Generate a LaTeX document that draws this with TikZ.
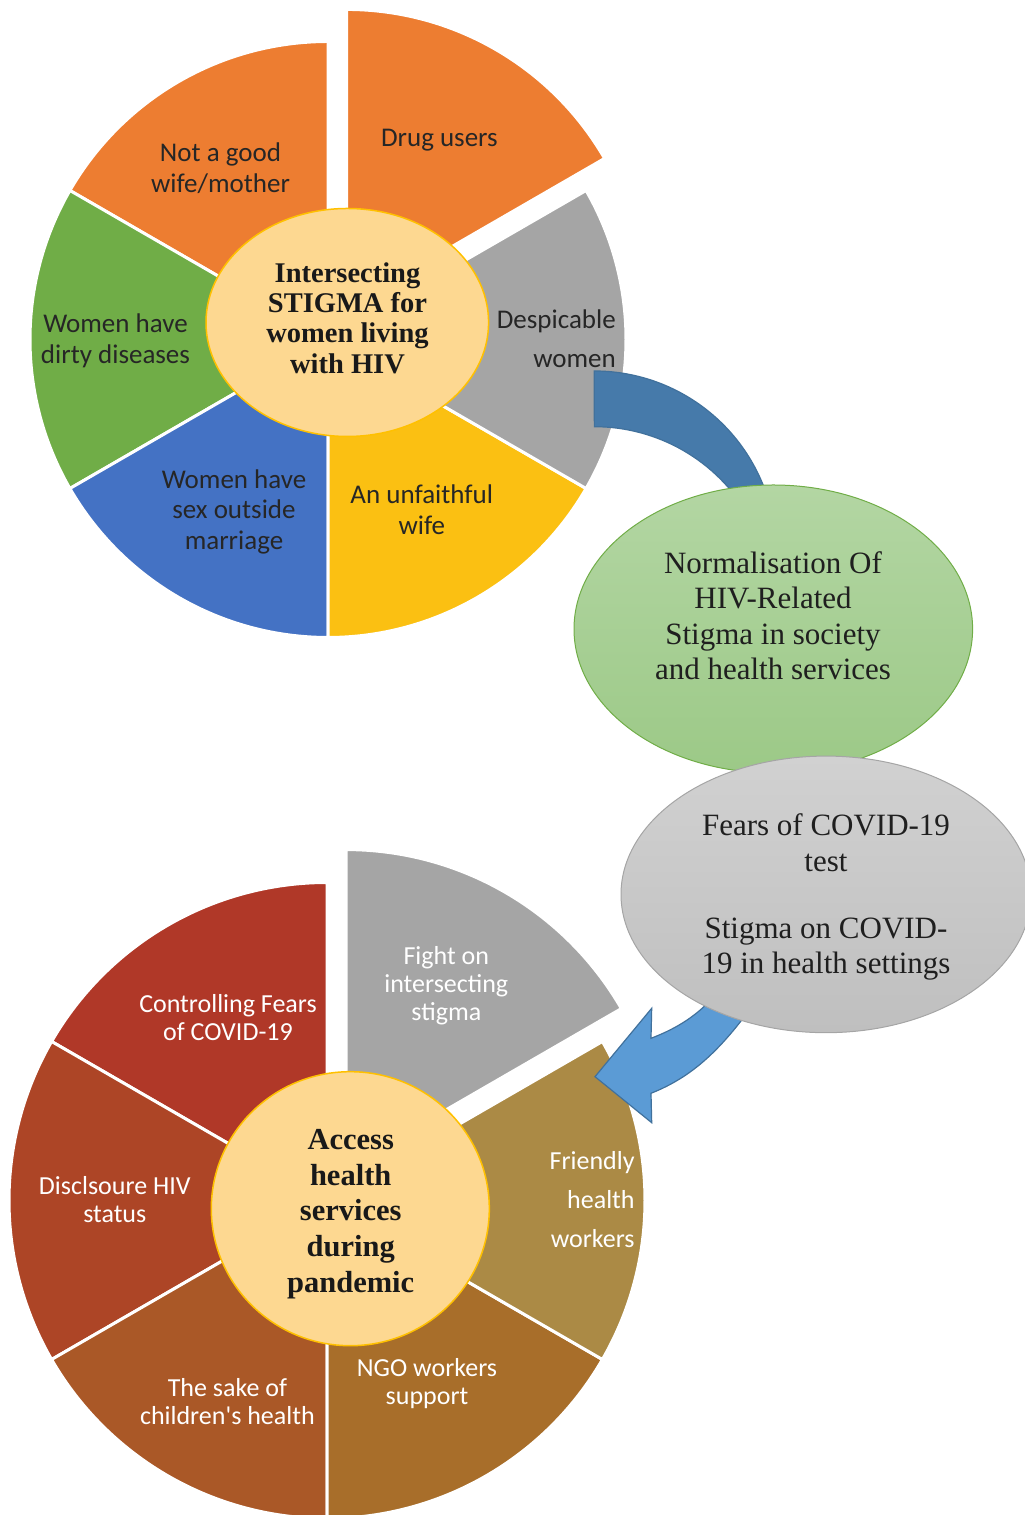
\documentclass[tikz,border=0pt]{standalone}
\usepackage{fontspec}
\setmainfont{Liberation Serif}
\newfontfamily\sectorfont{Carlito}
\usetikzlibrary{shapes.geometric}

\definecolor{pieorange}{HTML}{ED7D31}
\definecolor{piegray}{HTML}{A5A5A5}
\definecolor{pieyellow}{HTML}{FBC012}
\definecolor{pieblue}{HTML}{4472C4}
\definecolor{piegreen}{HTML}{70AD47}
\definecolor{rustA}{HTML}{B03828}
\definecolor{rustB}{HTML}{AD4526}
\definecolor{rustC}{HTML}{AA5827}
\definecolor{rustD}{HTML}{A86E2A}
\definecolor{rustE}{HTML}{AB8A45}
\definecolor{hubfill}{HTML}{FDD891}
\definecolor{hubline}{HTML}{FFC000}
\definecolor{labelgray}{HTML}{262626}
\definecolor{greentop}{HTML}{B3D6A3}
\definecolor{greenbot}{HTML}{9CC987}
\definecolor{graytop}{HTML}{D1D1D1}
\definecolor{graybot}{HTML}{BFBFBF}
\definecolor{arrowdark}{HTML}{467AAA}
\definecolor{arrowlight}{HTML}{5B9BD5}
\definecolor{arrowline}{HTML}{41719C}

\begin{document}
\begin{tikzpicture}[x=1pt, y=1pt,
    slice/.style={draw=white, line width=3pt, line join=round},
    toplabel/.style={font=\sectorfont\fontsize{27}{30.5}\selectfont, text=labelgray, align=center, inner sep=0pt},
    botlabel/.style={font=\sectorfont\fontsize{26}{28}\selectfont, text=white, align=center, inner sep=0pt},
    hub/.style={ellipse, fill=hubfill, draw=hubline, line width=1.5pt, inner sep=0pt},
    hubtext/.style={text=black!90, align=center, inner sep=0pt},
    bubble/.style={ellipse, line width=1pt, inner sep=0pt},
    bubbletext/.style={font=\fontsize{31}{35.5}\selectfont, text=black!88, align=center, inner sep=0pt},
    bigarrow/.style={draw=arrowline, line width=1.2pt, line join=miter}]

    \useasboundingbox (0,0) rectangle (1025,1515);

    % Intersecting stigma (top pie)
    \begin{scope}[shift={(328,1175.5)}]
        \filldraw[fill=pieorange, slice, shift={(60:37)}] (0,0) -- (30:298) arc[start angle=30, end angle=90, radius=298] -- cycle;
        \filldraw[fill=pieorange, slice] (0,0) -- (90:298) arc[start angle=90, end angle=150, radius=298] -- cycle;
        \filldraw[fill=piegreen, slice] (0,0) -- (150:298) arc[start angle=150, end angle=210, radius=298] -- cycle;
        \filldraw[fill=pieblue, slice] (0,0) -- (210:298) arc[start angle=210, end angle=270, radius=298] -- cycle;
        \filldraw[fill=pieyellow, slice] (0,0) -- (270:298) arc[start angle=270, end angle=330, radius=298] -- cycle;
        \filldraw[fill=piegray, slice] (0,0) -- (-30:298) arc[start angle=-30, end angle=30, radius=298] -- cycle;
        \node[hub, minimum width=282.6pt, minimum height=228pt] (stigma) at (19.3,17) {};
        \node[hubtext, font=\bfseries\fontsize{28.5}{30.3}\selectfont] (stigmatext) at (19.5,21.5) {Intersecting\\ STIGMA for\\ women living\\ with HIV};
        \node[toplabel] (drug) at (111.4,199.5) {Drug users};
        \node[toplabel] (wife) at (-107.5,171.5) {Not a good\\ wife/mother};
        \node[toplabel] (dirty) at (-212.5,-1.5) {Women have\\ dirty diseases};
        \node[toplabel] (sex) at (-94,-172) {Women have\\ sex outside\\ marriage};
        \node[toplabel] (unfaithful) at (93.8,-170) {An unfaithful\\ wife};
        \node[toplabel, font=\sectorfont\fontsize{27}{39.4}\selectfont, align=right, anchor=east] (despicable) at (288,1) {Despicable\\ women};
    \end{scope}

    % curved arrow down to the normalisation bubble
    \filldraw[fill=arrowdark, bigarrow] (594.3,1144) arc[start angle=90, end angle=15, radius=182] -- (748.5,999.3) arc[start angle=30, end angle=90, radius=178] -- cycle;

    % Access health services (bottom pie)
    \begin{scope}[shift={(327,314.5)}]
        \filldraw[fill=piegray, slice, shift={(60:38)}] (0,0) -- (30:318) arc[start angle=30, end angle=90, radius=318] -- cycle;
        \filldraw[fill=rustA, slice] (0,0) -- (90:318) arc[start angle=90, end angle=150, radius=318] -- cycle;
        \filldraw[fill=rustB, slice] (0,0) -- (150:318) arc[start angle=150, end angle=210, radius=318] -- cycle;
        \filldraw[fill=rustC, slice] (0,0) -- (210:318) arc[start angle=210, end angle=270, radius=318] -- cycle;
        \filldraw[fill=rustD, slice] (0,0) -- (270:318) arc[start angle=270, end angle=330, radius=318] -- cycle;
        \filldraw[fill=rustE, slice] (0,0) -- (-30:318) arc[start angle=-30, end angle=30, radius=318] -- cycle;
        \node[hub, minimum width=278pt, minimum height=274pt] (access) at (23.3,-8.2) {};
        \node[hubtext, font=\bfseries\fontsize{30.5}{35.6}\selectfont] (accesstext) at (23.7,-13.5) {Access\\ health\\ services\\ during\\ pandemic};
        \node[botlabel] (fight) at (119.3,214.5) {Fight on\\ intersecting\\ stigma};
        \node[botlabel] (fears) at (-99,182.9) {Controlling Fears\\ of COVID-19};
        \node[botlabel] (disclose) at (-212.2,0.5) {Disclsoure HIV\\ status};
        \node[botlabel] (children) at (-99.6,-200.8) {The sake of\\ children's health};
        \node[botlabel] (ngo) at (100,-183.5) {NGO workers\\ support};
        \node[botlabel, font=\sectorfont\fontsize{26}{38.7}\selectfont, align=right, anchor=east] (friendly) at (307.8,1.1) {Friendly\\ health\\ workers};
    \end{scope}

    % Normalisation bubble
    \node[bubble, draw=piegreen, top color=greentop, bottom color=greenbot, minimum width=398.6pt, minimum height=288pt] (normal) at (773.3,886) {};
    \node[bubbletext] (normaltext) at (773,899.5) {Normalisation Of\\ HIV-Related\\ Stigma in society\\ and health services};

    % curved arrow back to the access pie
    \filldraw[fill=arrowlight, bigarrow] (595,438.3) -- (651.7,506.7) -- (651,476.7) .. controls (670,484) and (695,496) .. (715,520) -- (760,520) .. controls (722,465) and (692,438) .. (651,421.7) -- (651.7,392.3) -- cycle;

    % COVID-19 bubble
    \node[bubble, draw=piegray, top color=graytop, bottom color=graybot, minimum width=410pt, minimum height=276.6pt] (covid) at (826,620.6) {};
    \node[bubbletext] (covidtext) at (826,618) {Fears of COVID-19\\ test\\[31.5pt] Stigma on COVID-\\ 19 in health settings};
\end{tikzpicture}
\end{document}
